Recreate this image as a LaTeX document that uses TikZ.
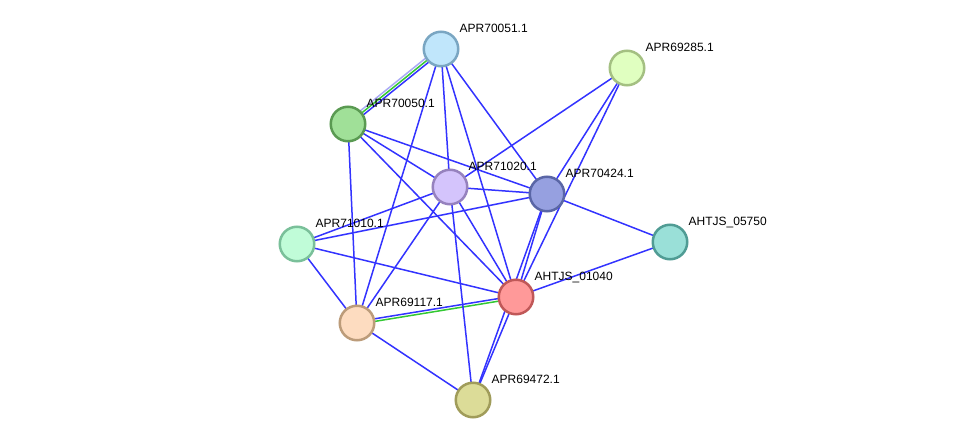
\documentclass[tikz,border=0pt]{standalone}
\usepackage{fontspec}
\setmainfont{Liberation Sans}
\usetikzlibrary{calc,backgrounds}
\definecolor{eblue}{RGB}{51,51,255}
\definecolor{egreen}{RGB}{51,200,51}
\definecolor{elav}{RGB}{170,170,245}
\definecolor{fA}{RGB}{192,230,251}\definecolor{bA}{RGB}{122,166,194}
\definecolor{fB}{RGB}{224,255,192}\definecolor{bB}{RGB}{164,192,130}
\definecolor{fC}{RGB}{160,224,152}\definecolor{bC}{RGB}{90,154,82}
\definecolor{fD}{RGB}{212,196,252}\definecolor{bD}{RGB}{150,130,190}
\definecolor{fE}{RGB}{150,160,224}\definecolor{bE}{RGB}{90,102,166}
\definecolor{fF}{RGB}{154,224,216}\definecolor{bF}{RGB}{80,156,148}
\definecolor{fG}{RGB}{192,252,216}\definecolor{bG}{RGB}{122,192,154}
\definecolor{fH}{RGB}{255,153,153}\definecolor{bH}{RGB}{192,88,88}
\definecolor{fI}{RGB}{253,220,192}\definecolor{bI}{RGB}{188,156,122}
\definecolor{fJ}{RGB}{220,220,152}\definecolor{bJ}{RGB}{160,156,90}
\tikzset{
  prot/.style={circle,minimum size=34.5pt,inner sep=0pt,line width=2.5pt},
  lbl/.style={anchor=base west,font=\fontsize{12pt}{14pt}\selectfont,inner sep=0pt},
  edge/.style={draw=eblue,line width=1.5pt},
  gedge/.style={draw=egreen,line width=1.5pt},
  ledge/.style={draw=elav,line width=1.5pt}
}
\begin{document}
\begin{tikzpicture}[x=1pt,y=-1pt]
\useasboundingbox (0,0) rectangle (975,446);
% nodes
\node[prot,fill=fA,draw=bA] (n70051) at (441,49) {};
\node[prot,fill=fB,draw=bB] (n69285) at (627,68) {};
\node[prot,fill=fC,draw=bC] (n70050) at (348,124) {};
\node[prot,fill=fD,draw=bD] (n71020) at (450,187) {};
\node[prot,fill=fE,draw=bE] (n70424) at (547,194) {};
\node[prot,fill=fF,draw=bF] (n05750) at (670,242) {};
\node[prot,fill=fG,draw=bG] (n71010) at (297,244) {};
\node[prot,fill=fH,draw=bH] (n01040) at (516,297) {};
\node[prot,fill=fI,draw=bI] (n69117) at (357,323) {};
\node[prot,fill=fJ,draw=bJ] (n69472) at (473,400) {};
% labels
\node[lbl] (t70051) at ($(n70051)+(18.5,-16.5)$) {APR70051.1};
\node[lbl] (t69285) at ($(n69285)+(18.5,-16.5)$) {APR69285.1};
\node[lbl] (t70050) at ($(n70050)+(18.5,-16.5)$) {APR70050.1};
\node[lbl] (t71020) at ($(n71020)+(18.5,-16.5)$) {APR71020.1};
\node[lbl] (t70424) at ($(n70424)+(18.5,-16.5)$) {APR70424.1};
\node[lbl] (t05750) at ($(n05750)+(18.5,-16.5)$) {AHTJS\_05750};
\node[lbl] (t71010) at ($(n71010)+(18.5,-16.5)$) {APR71010.1};
\node[lbl] (t01040) at ($(n01040)+(18.5,-16.5)$) {AHTJS\_01040};
\node[lbl] (t69117) at ($(n69117)+(18.5,-16.5)$) {APR69117.1};
\node[lbl] (t69472) at ($(n69472)+(18.5,-16.5)$) {APR69472.1};
% edges
\begin{scope}[on background layer]
\path[ledge] ($(n70050.center)!2.5pt!90:(n70051.center)$) -- ($(n70051.center)!2.5pt!-90:(n70050.center)$);
\path[gedge] (n70050.center) -- (n70051.center);
\path[edge] ($(n70050.center)!2.5pt!-90:(n70051.center)$) -- ($(n70051.center)!2.5pt!90:(n70050.center)$);
\path[edge] ($(n69117.center)!1.3pt!90:(n01040.center)$) -- ($(n01040.center)!1.3pt!-90:(n69117.center)$);
\path[gedge] ($(n69117.center)!1.3pt!-90:(n01040.center)$) -- ($(n01040.center)!1.3pt!90:(n69117.center)$);
\foreach \a/\b in {70051/69117,70051/71020,70051/01040,70051/70424,
  70050/71020,70050/70424,70050/01040,70050/69117,
  71020/69285,71020/70424,71020/71010,71020/01040,71020/69117,71020/69472,
  70424/69285,70424/05750,70424/71010,70424/01040,70424/69472,
  69285/01040,01040/05750,01040/69472,01040/71010,69117/71010,69117/69472}
  \path[edge] (n\a.center) -- (n\b.center);
\end{scope}
\end{tikzpicture}
\end{document}
